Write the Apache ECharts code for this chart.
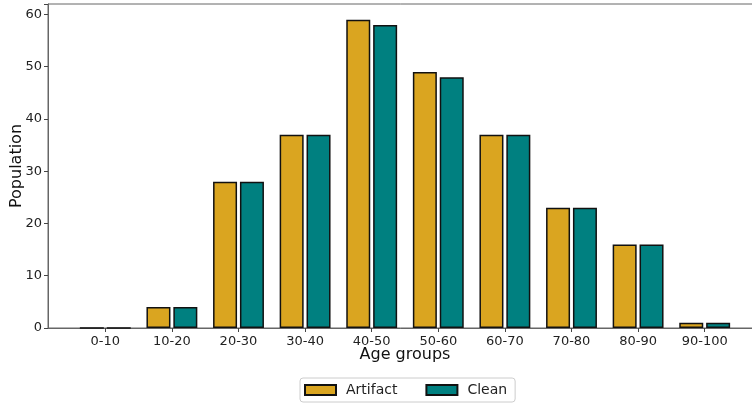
<!DOCTYPE html>
<html>
<head>
<meta charset="utf-8">
<script src="https://cdn.jsdelivr.net/npm/echarts@6/dist/echarts.min.js"></script>
<style>html,body{margin:0;padding:0;background:#fff}#c{width:752px;height:403px}</style>
</head>
<body>
<div id="c"></div>
<script>
const categories = ['0-10','10-20','20-30','30-40','40-50','50-60','60-70','70-80','80-90','90-100'];
const artifact = [0, 4, 28, 37, 59, 49, 37, 23, 16, 1];
const clean = [0, 4, 28, 37, 58, 48, 37, 23, 16, 1];
const yTicks = [0, 10, 20, 30, 40, 50, 60];

const chart = echarts.init(document.getElementById('c'), null, {renderer: 'canvas'});
const font = 'DejaVu Sans';
chart.setOption({
  animation: false,
  textStyle: {fontFamily: font},
  grid: [
    {left: 48, top: 4, width: 720, bottom: 75, show: true, borderColor: '#666', borderWidth: 1, containLabel: false, outerBoundsMode: 'none'},
    {left: 72, top: 4, width: 666, bottom: 75, containLabel: false, outerBoundsMode: 'none'}
  ],
  xAxis: [
    {gridIndex: 0, type: 'value', min: 0, max: 1, axisLine: {show: true, lineStyle: {color: '#666'}}, axisTick: {show: false}, axisLabel: {show: false}, splitLine: {show: false}},
    {gridIndex: 1, type: 'category', data: categories, boundaryGap: true,
     axisLine: {show: false}, axisTick: {show: true, alignWithLabel: true, length: 4, lineStyle: {color: '#444'}},
     axisLabel: {color: '#222', fontSize: 13, fontFamily: font, margin: 7},
     name: 'Age groups', nameLocation: 'middle', nameGap: 19, nameMoveOverlap: false,
     nameTextStyle: {fontSize: 16, color: '#111', fontFamily: font}}
  ],
  yAxis: [
    {gridIndex: 0, type: 'value', min: 0, max: 62, interval: 10,
     axisLine: {show: true, lineStyle: {color: '#666'}},
     axisTick: {show: true, length: 4, lineStyle: {color: '#444'}},
     axisLabel: {color: '#222', fontSize: 13, fontFamily: font, margin: 6,
       formatter: v => yTicks.includes(v) ? String(v) : ''},
     splitLine: {show: false},
     name: 'Population', nameLocation: 'middle', nameGap: 23, nameRotate: 90, nameMoveOverlap: false,
     nameTextStyle: {fontSize: 16, color: '#111', fontFamily: font}},
    {gridIndex: 1, type: 'value', min: 0, max: 62, show: false, splitLine: {show: false}}
  ],
  legend: {
    data: [{name: 'Artifact', icon: 'rect'}, {name: 'Clean', icon: 'rect'}],
    left: 300, bottom: 1,
    itemWidth: 31, itemHeight: 10, itemGap: 28,
    padding: [5, 8, 5, 4],
    borderColor: '#ccc', borderWidth: 1, borderRadius: 3,
    textStyle: {fontSize: 14, color: '#222', fontFamily: font, padding: [0, 0, 0, 5]}
  },
  series: [
    {name: 'Artifact', type: 'bar', xAxisIndex: 1, yAxisIndex: 1, data: artifact,
     barWidth: 24, barGap: '12%',
     itemStyle: {color: '#DAA520', borderColor: '#111', borderWidth: 1.5}},
    {name: 'Clean', type: 'bar', xAxisIndex: 1, yAxisIndex: 1, data: clean,
     barWidth: 24, barGap: '12%',
     itemStyle: {color: '#008080', borderColor: '#111', borderWidth: 1.5}}
  ]
});
</script>
</body>
</html>
